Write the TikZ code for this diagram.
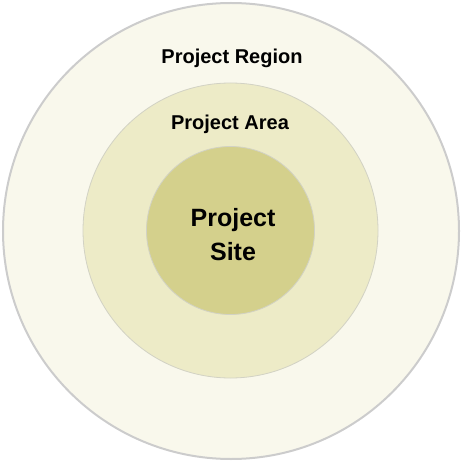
\documentclass[tikz,border=0pt]{standalone}
\usepackage{fontspec}
\setmainfont{Liberation Sans}
\definecolor{outerfill}{HTML}{F9F8EC}
\definecolor{midfill}{HTML}{EDEBC7}
\definecolor{innerfill}{HTML}{D4D08C}
\definecolor{outerline}{HTML}{CCCCCC}
\definecolor{innerline}{HTML}{D2D2C4}
\begin{document}
\begin{tikzpicture}[x=1pt,y=-1pt,
  ring/.style={circle,inner sep=0pt,draw=innerline,line width=0.8pt},
  lbl/.style={font=\bfseries\fontsize{20}{24}\selectfont,text=black}]
\useasboundingbox (0,0) rectangle (462,462);
\node[ring,draw=outerline,line width=2pt,fill=outerfill,minimum size=456pt] (region) at (231,231) {};
\node[ring,fill=midfill,minimum size=295pt] (area) at (230.5,230.5) {};
\node[ring,fill=innerfill,minimum size=168pt] (site) at (230.5,230.5) {};
\node[lbl] (tregion) at (232,58) {Project Region};
\node[lbl] (tarea) at (230,124) {Project Area};
\node[lbl,font=\bfseries\fontsize{25}{34}\selectfont,align=center] (tsite) at (233,235) {Project\\Site};
\end{tikzpicture}
\end{document}
